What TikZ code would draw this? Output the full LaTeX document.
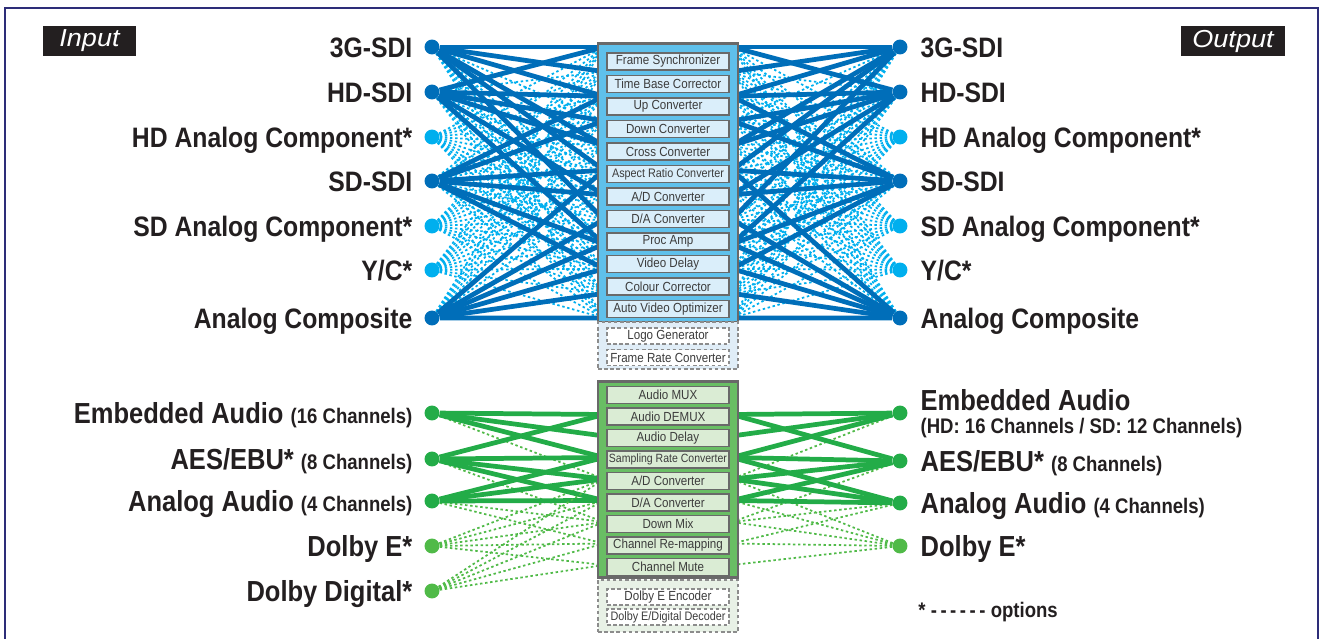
\documentclass[tikz,border=0pt]{standalone}
\usepackage{fontspec}
\setmainfont{Liberation Sans}[FakeStretch=0.88]
\newfontfamily\tagfont{Liberation Sans}[FakeStretch=1.1]
\usetikzlibrary{positioning, backgrounds, calc}
\definecolor{ink}{RGB}{35,31,32}
\definecolor{edgenavy}{RGB}{45,45,120}
\definecolor{vidblue}{RGB}{0,110,185}
\definecolor{vidcyan}{RGB}{0,175,238}
\definecolor{vidfill}{RGB}{95,192,235}
\definecolor{vidmod}{RGB}{218,238,250}
\definecolor{voptfill}{RGB}{224,237,247}
\definecolor{audgreen}{RGB}{35,172,72}
\definecolor{audlight}{RGB}{80,186,72}
\definecolor{audfill}{RGB}{105,190,100}
\definecolor{audmod}{RGB}{218,236,212}
\definecolor{aoptfill}{RGB}{232,241,230}
\definecolor{modline}{RGB}{105,105,105}
\definecolor{optline}{RGB}{140,140,140}
\definecolor{modtext}{RGB}{60,60,60}
\newcommand\chnote[1]{{\fontsize{12}{13}\selectfont #1}}
\tikzstyle{jack}    = [circle, inner sep=0pt, minimum size=8.5pt]
\tikzstyle{vlbl}    = [inner sep=0pt, text=ink, text height=11.5pt, text depth=0pt,
                       font=\fontsize{16}{18}\selectfont\bfseries]
\tikzstyle{albl}    = [vlbl, text height=11.8pt, font=\fontsize{16.5}{18}\selectfont\bfseries]
\tikzstyle{chlbl}   = [inner sep=0pt, text=ink, font=\fontsize{12}{13}\selectfont\bfseries]
\tikzstyle{tagbox}  = [fill=ink, text=white, minimum height=0.6cm, inner sep=0pt,
                       font=\tagfont\itshape\fontsize{14}{16}\selectfont]
\tikzstyle{vblock}  = [draw=modline, line width=1.3pt, fill=vidfill, inner sep=0pt,
                       minimum width=2.8cm, minimum height=5.58cm]
\tikzstyle{ablock}  = [vblock, fill=audfill, minimum height=3.92cm]
\tikzstyle{mod}     = [draw=modline, line width=1pt, inner sep=0pt, text=modtext,
                       minimum width=2.44cm, minimum height=0.34cm, font=\fontsize{7.5}{8}\selectfont]
\tikzstyle{vmod}    = [mod, fill=vidmod]
\tikzstyle{amod}    = [mod, fill=audmod]
\tikzstyle{optarea} = [draw=optline, dash pattern=on 2pt off 1.5pt, line width=0.8pt,
                       inner sep=0pt, minimum width=2.8cm]
\tikzstyle{optmod}  = [mod, draw=optline, dash pattern=on 2pt off 1.5pt, fill=white,
                       minimum height=0.32cm]
\tikzstyle{vsolid}  = [vidblue, line width=2.7pt]
\tikzstyle{vdot}    = [vidcyan, line width=1pt, dash pattern=on 1.4pt off 1.5pt]
\tikzstyle{asolid}  = [audgreen, line width=2.7pt]
\tikzstyle{adot}    = [audlight, line width=1pt, dash pattern=on 1.4pt off 1.5pt]

\begin{document}
\begin{tikzpicture}[x=0.02cm, y=-0.02cm]
    \useasboundingbox (0,0) rectangle (1320,639);
    \clip (0,0) rectangle (1320,639);
    \draw[edgenavy, line width=1.6pt] (5,8) rectangle (1318,700);

    \node[tagbox, minimum width=1.86cm] (intag) at (89.5,41) {Input};
    \node[tagbox, minimum width=2.08cm] (outtag) at (1233,41) {Output};

    % video jacks and labels
    \foreach \j/\y/\c/\txt in {3g/47/vidblue/3G-SDI, hd/92/vidblue/HD-SDI,
        hda/137/vidcyan/HD Analog Component*, sd/181/vidblue/SD-SDI,
        sda/226/vidcyan/SD Analog Component*, yc/270/vidcyan/{Y/C*},
        comp/318/vidblue/Analog Composite} {
      \node[jack, fill=\c] (in\j) at (432,\y) {};
      \node[vlbl, left=0.23cm of in\j] (inl\j) {\txt};
      \node[jack, fill=\c] (out\j) at (900,\y) {};
      \node[vlbl, right=0.25cm of out\j] (outl\j) {\txt};
    }

    % audio jacks and labels
    \node[jack, fill=audgreen] (inemb) at (432,413) {};
    \node[albl, left=0.23cm of inemb] (inlemb) {Embedded Audio \chnote{(16 Channels)}};
    \node[jack, fill=audgreen] (inaes) at (432,459) {};
    \node[albl, left=0.23cm of inaes] (inlaes) {AES/EBU* \chnote{(8 Channels)}};
    \node[jack, fill=audgreen] (inana) at (432,501) {};
    \node[albl, left=0.23cm of inana] (inlana) {Analog Audio \chnote{(4 Channels)}};
    \node[jack, fill=audlight] (indolbye) at (432,546) {};
    \node[albl, left=0.23cm of indolbye] (inldolbye) {Dolby E*};
    \node[jack, fill=audlight] (indolbyd) at (432,591) {};
    \node[albl, left=0.23cm of indolbyd] (inldolbyd) {Dolby Digital*};

    \node[jack, fill=audgreen] (outemb) at (900,413) {};
    \node[albl, right=0.25cm of outemb, yshift=0.26cm] (outlemb) {Embedded Audio};
    \node[chlbl, anchor=north west] (outlembch) at ($(outlemb.south west)+(0,7)$)
         {(HD: 16 Channels / SD: 12 Channels)};
    \node[jack, fill=audgreen] (outaes) at (900,461) {};
    \node[albl, right=0.25cm of outaes] (outlaes) {AES/EBU* \chnote{(8 Channels)}};
    \node[jack, fill=audgreen] (outana) at (900,503) {};
    \node[albl, right=0.25cm of outana] (outlana) {Analog Audio \chnote{(4 Channels)}};
    \node[jack, fill=audlight] (outdolbye) at (900,546) {};
    \node[albl, right=0.25cm of outdolbye] (outldolbye) {Dolby E*};

    \node[chlbl, anchor=west] (optnote) at (918,612)
         {*\kern3pt-\kern2pt-\kern2pt-\kern2pt-\kern2pt-\kern2pt-\kern3pt options};

    % where the links meet the blocks
    \foreach \k in {1,...,12} {
      \coordinate (vin\k) at (604,{47+24.636*(\k-1)});
      \coordinate (vout\k) at (732,{47+24.636*(\k-1)});
    }
    \foreach \k in {1,...,9} {
      \coordinate (ain\k) at (604,{393+21.5*(\k-1)});
      \coordinate (aout\k) at (732,{393+21.5*(\k-1)});
    }

    \begin{scope}[on background layer]
      \foreach \sd in {in,out} {
        \foreach \j in {hda,sda,yc}
          \foreach \k in {1,...,12}
            \draw[vdot] (\sd\j) -- (v\sd\k);
        \foreach \j/\ks in {3g/{4,7,9,10,11,12}, hd/{2,6,8,10,11,12},
                            sd/{1,2,5,8,11,12}, comp/{1,2,3,4,5,7}}
          \foreach \k in \ks
            \draw[vdot] (\sd\j) -- (v\sd\k);
        \foreach \j/\ks in {3g/{1,2,3,5,6,8}, hd/{1,3,4,5,7,9},
                            sd/{3,4,6,7,9,10}, comp/{6,8,9,10,11,12}}
          \foreach \k in \ks
            \draw[vsolid] (\sd\j) -- (v\sd\k);
        \foreach \j/\ks in {emb/{5}, aes/{7}, ana/{7,8}, dolbye/{5,6,7,8,9}}
          \foreach \k in \ks
            \draw[adot] (\sd\j) -- (a\sd\k);
        \foreach \j/\ks in {emb/{2,3,4}, aes/{2,4,5,6}, ana/{4,5,6}}
          \foreach \k in \ks
            \draw[asolid] (\sd\j) -- (a\sd\k);
      }
      \foreach \k in {5,...,9}
        \draw[adot] (indolbyd) -- (ain\k);
    \end{scope}

    % video processing block
    \node[vblock] (vidblock) at (668,183) {};
    \foreach \m [count=\i] in {Frame Synchronizer, Time Base Corrector, Up Converter,
        Down Converter, Cross Converter, {\fontsize{7}{8}\selectfont Aspect Ratio Converter},
        A/D Converter, D/A Converter, Proc Amp, Video Delay, Colour Corrector,
        Auto Video Optimizer}
      \node[vmod] (vm\i) at (668,{61.5+22.5*(\i-1)}) {\m};
    \node[optarea, fill=voptfill, minimum height=0.94cm] (vidopt) at (668,345.5) {};
    \node[optmod] (logo) at (668,336) {Logo Generator};
    \node[optmod] (frc) at (668,357.5) {Frame Rate Converter};

    % audio processing block
    \node[ablock] (audblock) at (668,479.5) {};
    \foreach \m [count=\i] in {Audio MUX, Audio DEMUX, Audio Delay,
        {\fontsize{6.8}{8}\selectfont Sampling Rate Converter}, A/D Converter,
        D/A Converter, Down Mix, Channel Re-mapping, Channel Mute}
      \node[amod] (am\i) at (668,{395+21.5*(\i-1)}) {\m};
    \node[optarea, fill=aoptfill, minimum height=1.04cm] (audopt) at (668,606) {};
    \node[optmod] (dolbyenc) at (668,597) {Dolby E Encoder};
    \node[optmod] (dolbydec) at (668,617) {\fontsize{7}{8}\selectfont Dolby E/Digital Decoder};
  \end{tikzpicture}
\end{document}
